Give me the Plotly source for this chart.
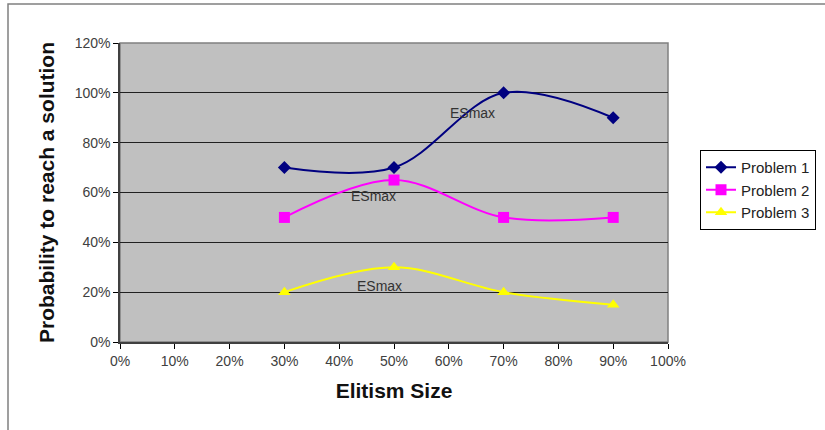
import plotly.graph_objects as go

# Elitism size (fraction) and probability of reaching a solution per problem
elitism = [0.30, 0.50, 0.70, 0.90]
problem_1 = [0.70, 0.70, 1.00, 0.90]
problem_2 = [0.50, 0.65, 0.50, 0.50]
problem_3 = [0.20, 0.30, 0.20, 0.15]

series_names = ["Problem 1", "Problem 2", "Problem 3"]
series_colors = ["#000080", "#FF00FF", "#FFFF00"]
series_symbols = ["diamond", "square", "triangle-up"]
series_sizes = [10, 11, 11]

# ESmax label positions (x, y) in data units
esmax_x = [0.644, 0.463, 0.474]
esmax_y = [0.92, 0.586, 0.225]

font = "Liberation Sans, Arial, sans-serif"

fig = go.Figure()
for name, vals, col, sym, sz in zip(series_names, [problem_1, problem_2, problem_3],
                                    series_colors, series_symbols, series_sizes):
    fig.add_trace(go.Scatter(
        x=elitism, y=vals, name=name, mode="lines+markers",
        line=dict(color=col, width=2, shape="spline", smoothing=1.0),
        marker=dict(color=col, symbol=sym, size=sz),
    ))

for ax_x, ax_y in zip(esmax_x, esmax_y):
    fig.add_annotation(x=ax_x, y=ax_y, text="ESmax", showarrow=False,
                       font=dict(family=font, size=14, color="#333333"))

# outer chart frame
fig.add_shape(type="rect", xref="paper", yref="paper",
              x0=(8 - 120) / 548, x1=2.0, y0=-1.0, y1=(342 - 4) / 299,
              line=dict(color="#808080", width=1.5), fillcolor="rgba(0,0,0,0)",
              layer="below")

fig.update_layout(
    width=825, height=430,
    margin=dict(l=120, r=157, t=43, b=88, autoexpand=False),
    paper_bgcolor="white",
    plot_bgcolor="#C0C0C0",
    font=dict(family=font, size=12, color="#333333"),
    showlegend=True,
    legend=dict(
        x=(700 - 120) / 548, y=(342 - 150) / 299, xanchor="left", yanchor="top",
        bordercolor="#000000", borderwidth=1, bgcolor="white",
        font=dict(family=font, size=15, color="#222222"),
        tracegroupgap=0, itemwidth=30,
    ),
    xaxis=dict(
        range=[0, 1], tickvals=[i / 10 for i in range(11)],
        tickformat=".0%", ticks="outside", ticklen=5, tickcolor="#000000",
        showgrid=False, zeroline=False,
        showline=True, linecolor="#404040", linewidth=1.5, mirror=False,
        tickfont=dict(family=font, size=14, color="#404040"),
        title=dict(text="<b>Elitism Size</b>", standoff=16,
                   font=dict(family=font, size=21, color="#111111")),
    ),
    yaxis=dict(
        range=[0, 1.2], tickvals=[i / 5 for i in range(7)],
        tickformat=".0%", ticks="outside", ticklen=5, tickcolor="#000000",
        showgrid=True, gridcolor="#202020", gridwidth=1.2, zeroline=False,
        showline=True, linecolor="#404040", linewidth=1.5,
        tickfont=dict(family=font, size=14, color="#404040"),
        title=dict(text="<b>Probability to reach a solution</b>", standoff=14,
                   font=dict(family=font, size=21, color="#111111")),
    ),
)

# right/top borders of the plot area
fig.add_shape(type="rect", xref="paper", yref="paper", x0=0, x1=1, y0=0, y1=1,
              line=dict(color="#808080", width=1.5), fillcolor="rgba(0,0,0,0)",
              layer="below")

fig.write_html("out.html")
